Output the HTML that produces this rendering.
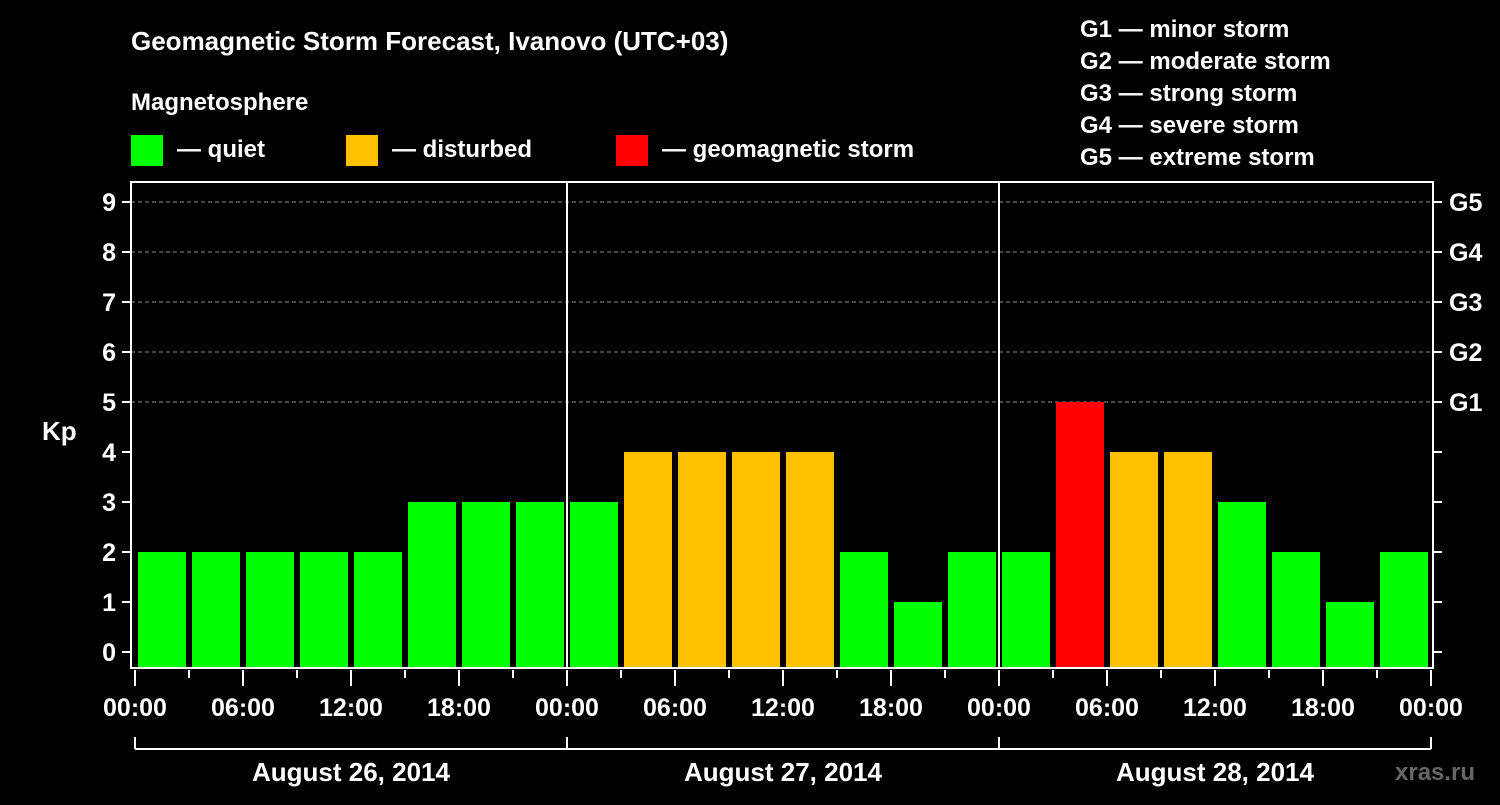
<!DOCTYPE html>
<html><head><meta charset="utf-8"><style>
html,body{margin:0;padding:0;background:#000;}
svg text{font-family:"Liberation Sans",Arial,sans-serif;font-weight:bold;fill:#fff;}
</style></head><body>
<svg id="chart" width="1500" height="800" viewBox="0 0 1500 800" xmlns="http://www.w3.org/2000/svg">
<rect width="1500" height="800" fill="#000"/>
<text x="131" y="50" font-size="26">Geomagnetic Storm Forecast, Ivanovo (UTC+03)</text>
<text x="131" y="110" font-size="24">Magnetosphere</text>
<g>
<rect x="131" y="135" width="32" height="31" fill="#00ff00"/>
<text x="177" y="157" font-size="24">— quiet</text>
<rect x="346" y="135" width="32" height="31" fill="#ffc000"/>
<text x="392" y="157" font-size="24">— disturbed</text>
<rect x="616" y="135" width="32" height="31" fill="#ff0000"/>
<text x="662" y="157" font-size="24">— geomagnetic storm</text>
</g>
<g font-size="24">
<text x="1080" y="37">G1 — minor storm</text>
<text x="1080" y="69">G2 — moderate storm</text>
<text x="1080" y="101">G3 — strong storm</text>
<text x="1080" y="133">G4 — severe storm</text>
<text x="1080" y="165">G5 — extreme storm</text>
</g>
<g id="grid"></g>
<g id="bars"></g>
<g id="axes"></g>
<text x="42" y="440" font-size="26">Kp</text>
<text x="1395" y="780" font-size="24" fill="#666" style="fill:#666">xras.ru</text>
</svg>
<script>
const values = [2,2,2,2,2,3,3,3, 3,4,4,4,4,2,1,2, 2,5,4,4,3,2,1,2];
const days = ["August 26, 2014","August 27, 2014","August 28, 2014"];
const hourLabels = ["00:00","06:00","12:00","18:00"];
const yTicks = [0,1,2,3,4,5,6,7,8,9];
const gLabels = ["G1","G2","G3","G4","G5"];

const NS="http://www.w3.org/2000/svg";
const x0=135, slot=54, y0=652, unit=50, plotTop=182, plotBottom=668, left=131, right=1433;
const xS=i=>x0+i*slot, yS=v=>y0-v*unit;
function mk(tag,attrs,parent,text){const e=document.createElementNS(NS,tag);for(const k in attrs)e.setAttribute(k,attrs[k]);if(text!==undefined)e.textContent=text;parent.appendChild(e);return e;}
const grid=document.getElementById('grid'),bars=document.getElementById('bars'),axes=document.getElementById('axes');
// grid lines for 5..9
yTicks.filter(v=>v>=5).forEach(v=>{
  const l=mk('line',{x1:left,x2:right,y1:yS(v),y2:yS(v),stroke:'#888','stroke-width':1,'stroke-dasharray':'4,3'},grid);
  
  
});
function color(v){return v>=5?'#ff0000':(v>=4?'#ffc000':'#00ff00');}
values.forEach((v,i)=>{
  const r=mk('rect',{x:xS(i)+3,y:yS(v),width:48,height:plotBottom-yS(v),fill:color(v)},bars);
  
  
});
// day separators
for(let d=1;d<days.length;d++){
  const l=mk('line',{x1:xS(d*8),x2:xS(d*8),y1:plotTop,y2:plotBottom,stroke:'#fff','stroke-width':2},axes);
  
  
}
// frame
const fr=mk('rect',{x:left,y:plotTop,width:right-left,height:plotBottom-plotTop,fill:'none',stroke:'#fff','stroke-width':2},axes);


// y ticks
yTicks.forEach(v=>{
  mk('line',{x1:left-9,x2:left,y1:yS(v),y2:yS(v),stroke:'#fff','stroke-width':2},axes);
  mk('line',{x1:right,x2:right+9,y1:yS(v),y2:yS(v),stroke:'#fff','stroke-width':2},axes);
  const t=mk('text',{x:116,y:yS(v)+9,'font-size':25,'text-anchor':'end'},axes,String(v));
  
  
});
gLabels.forEach((g,i)=>{
  const t=mk('text',{x:1449,y:yS(5+i)+9,'font-size':25},axes,g);
  
  
});
// x ticks
for(let i=0;i<=values.length;i++){
  const major=i%2===0;
  mk('line',{x1:xS(i),x2:xS(i),y1:plotBottom+2,y2:major?686:678,stroke:'#fff','stroke-width':2},axes);
  if(major){
    const t=mk('text',{x:xS(i),y:716,'font-size':25,'text-anchor':'middle'},axes,hourLabels[(i/2)%4]);
    
    
  }
}
// day brackets
mk('line',{x1:xS(0),x2:xS(values.length),y1:749,y2:749,stroke:'#fff','stroke-width':2},axes);
for(let d=0;d<=days.length;d++) mk('line',{x1:xS(d*8),x2:xS(d*8),y1:737,y2:749,stroke:'#fff','stroke-width':2},axes);
days.forEach((d,i)=>{
  const t=mk('text',{x:xS(i*8+4),y:781,'font-size':26,'text-anchor':'middle'},axes,d);
  
  
});
</script>
</body></html>
